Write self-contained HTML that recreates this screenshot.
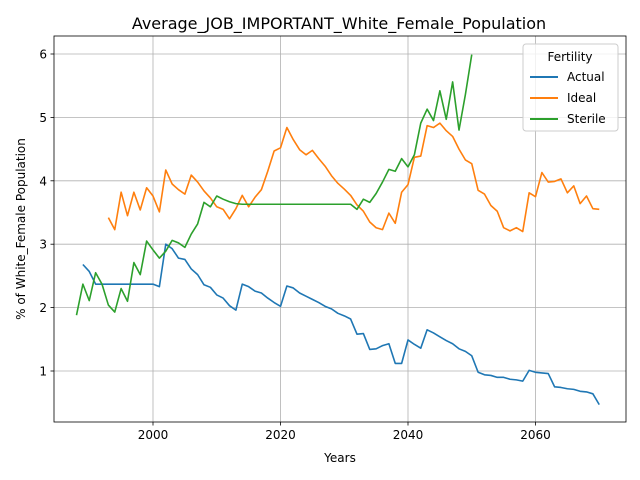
<!DOCTYPE html>
<html><head><meta charset="utf-8"><style>
body{margin:0;background:#fff;}
svg{display:block;font-family:"DejaVu Sans","Liberation Sans",sans-serif;}
</style></head><body>
<svg id="chart" width="640" height="480" viewBox="0 0 640 480">
<rect x="0" y="0" width="640" height="480" fill="#fff"/>
<text x="339" y="29" text-anchor="middle" font-size="16">Average_JOB_IMPORTANT_White_Female_Population</text>
<g id="grid"></g>
<g id="series"></g>
<rect x="54" y="36" width="572" height="386" fill="none" stroke="#000" stroke-width="0.8"/>
<g id="ticks"></g>
<text x="340" y="462" text-anchor="middle" font-size="12">Years</text>
<text x="0" y="0" transform="translate(25,229) rotate(-90)" text-anchor="middle" font-size="12">% of White_Female Population</text>
<g>
<rect x="523" y="44" width="95" height="87" rx="3" fill="#fff" fill-opacity="0.8" stroke="#ccc"/>
<text x="570" y="61" text-anchor="middle" font-size="12">Fertility</text>
<line x1="530" y1="77" x2="558" y2="77" stroke="#1f77b4" stroke-width="2"/>
<text x="567" y="81" font-size="12">Actual</text>
<line x1="530" y1="98" x2="558" y2="98" stroke="#ff7f0e" stroke-width="2"/>
<text x="567" y="102" font-size="12">Ideal</text>
<line x1="530" y1="119" x2="558" y2="119" stroke="#2ca02c" stroke-width="2"/>
<text x="567" y="123" font-size="12">Sterile</text>
</g>
</svg>
<script>
const xTicks=[2000,2020,2040,2060];
const yTicks=[1,2,3,4,5,6];
const actualStart=1989;
const actualValues=[2.68,2.57,2.37,2.37,2.37,2.37,2.37,2.37,2.37,2.37,2.37,2.37,2.33,3.0,2.93,2.78,2.76,2.61,2.52,2.36,2.32,2.2,2.15,2.03,1.96,2.37,2.33,2.26,2.23,2.15,2.08,2.02,2.34,2.31,2.23,2.18,2.13,2.08,2.02,1.98,1.91,1.87,1.82,1.58,1.59,1.34,1.35,1.40,1.43,1.12,1.12,1.49,1.42,1.36,1.65,1.60,1.54,1.48,1.43,1.35,1.31,1.24,0.98,0.94,0.93,0.90,0.90,0.87,0.86,0.84,1.01,0.98,0.97,0.96,0.75,0.74,0.72,0.71,0.68,0.67,0.64,0.47];
const idealStart=1993;
const idealValues=[3.42,3.23,3.82,3.45,3.82,3.54,3.89,3.76,3.51,4.17,3.95,3.86,3.79,4.09,3.98,3.84,3.73,3.59,3.55,3.40,3.56,3.77,3.59,3.74,3.86,4.15,4.47,4.52,4.84,4.65,4.49,4.41,4.48,4.35,4.23,4.08,3.96,3.87,3.77,3.62,3.52,3.35,3.26,3.23,3.49,3.33,3.82,3.94,4.37,4.39,4.87,4.84,4.91,4.79,4.70,4.50,4.33,4.27,3.85,3.79,3.61,3.52,3.26,3.21,3.26,3.20,3.81,3.75,4.13,3.98,3.99,4.03,3.81,3.92,3.64,3.76,3.56,3.55];
const sterileStart=1988;
const sterileValues=[1.88,2.37,2.11,2.55,2.37,2.04,1.93,2.30,2.10,2.71,2.52,3.05,2.91,2.78,2.89,3.06,3.02,2.95,3.16,3.32,3.66,3.59,3.76,3.71,3.67,3.64,3.63,3.63,3.63,3.63,3.63,3.63,3.63,3.63,3.63,3.63,3.63,3.63,3.63,3.63,3.63,3.63,3.63,3.63,3.55,3.71,3.66,3.80,3.98,4.18,4.15,4.35,4.22,4.41,4.91,5.13,4.95,5.42,4.97,5.56,4.80,5.36,5.99];

const NS="http://www.w3.org/2000/svg";
function xs(yr){return 153+(yr-2000)*(408-153)/40;}
function ys(v){return 371-(v-1)*(371-54)/5;}
const grid=document.getElementById('grid'),ticks=document.getElementById('ticks'),ser=document.getElementById('series');
function mk(tag,attrs,parent){const e=document.createElementNS(NS,tag);for(const k in attrs)e.setAttribute(k,attrs[k]);parent.appendChild(e);return e;}
xTicks.forEach(t=>{
  const x=xs(t);
  const g=mk('line',{x1:x,y1:36,x2:x,y2:422,stroke:'#b0b0b0','stroke-width':0.8},grid);
  
  
  mk('line',{x1:x,y1:422,x2:x,y2:425.5,stroke:'#000','stroke-width':0.8},ticks);
  const tx=mk('text',{x:x,y:439,'text-anchor':'middle','font-size':12},ticks);
  tx.textContent=t;
  
  
});
yTicks.forEach(t=>{
  const y=ys(t);
  const g=mk('line',{x1:54,y1:y,x2:626,y2:y,stroke:'#b0b0b0','stroke-width':0.8},grid);
  
  
  mk('line',{x1:50.5,y1:y,x2:54,y2:y,stroke:'#000','stroke-width':0.8},ticks);
  const tx=mk('text',{x:47,y:y+4.5,'text-anchor':'end','font-size':12},ticks);
  tx.textContent=t;
  
  
});
function line(start,vals,color,name){
  const pts=vals.map((v,i)=>xs(start+i).toFixed(2)+','+ys(v).toFixed(2)).join(' ');
  const p=mk('polyline',{points:pts,fill:'none',stroke:color,'stroke-width':1.6,'stroke-linejoin':'round'},ser);
  
  
}
line(actualStart,actualValues,'#1f77b4','actual-line');
line(idealStart,idealValues,'#ff7f0e','ideal-line');
line(sterileStart,sterileValues,'#2ca02c','sterile-line');
</script>
</body></html>
